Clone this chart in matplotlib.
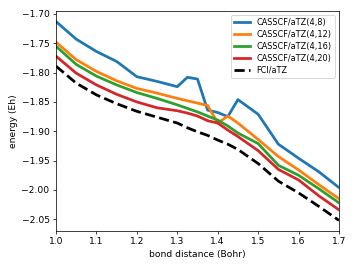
import numpy as np
import matplotlib
matplotlib.use('Agg')
import matplotlib.pyplot as plt

bond = [1.0, 1.05, 1.1, 1.15, 1.2, 1.25, 1.3, 1.325, 1.35, 1.375, 1.4, 1.425, 1.45,
        1.5, 1.55, 1.6, 1.65, 1.7]

cas_4_8 = [-1.713, -1.743, -1.764, -1.781, -1.807, -1.815, -1.824, -1.808, -1.811,
           -1.864, -1.868, -1.875, -1.846, -1.871, -1.922, -1.946, -1.969, -1.996]
cas_4_12 = [-1.748, -1.778, -1.798, -1.814, -1.827, -1.835, -1.844, -1.848, -1.852,
            -1.856, -1.886, -1.874, -1.886, -1.914, -1.943, -1.966, -1.991, -2.015]
cas_4_16 = [-1.755, -1.786, -1.806, -1.821, -1.834, -1.844, -1.855, -1.861, -1.867,
            -1.874, -1.881, -1.891, -1.903, -1.921, -1.958, -1.975, -1.998, -2.022]
cas_4_20 = [-1.772, -1.801, -1.821, -1.837, -1.850, -1.860, -1.865, -1.869, -1.874,
            -1.882, -1.886, -1.898, -1.909, -1.933, -1.965, -1.983, -2.010, -2.034]
fci = [-1.789, -1.818, -1.838, -1.853, -1.866, -1.876, -1.886, -1.894, -1.901,
       -1.907, -1.915, -1.922, -1.931, -1.955, -1.985, -2.005, -2.028, -2.052]

DPI = 66
fig = plt.figure(figsize=(357 / DPI, 268 / DPI), dpi=DPI)
ax = fig.add_axes([56 / 357, 1 - 231 / 268, (339 - 56) / 357, (231 - 11) / 268])

ax.plot(bond, cas_4_8, lw=3, label='CASSCF/aTZ(4,8)')
ax.plot(bond, cas_4_12, lw=3, label='CASSCF/aTZ(4,12)')
ax.plot(bond, cas_4_16, lw=3, label='CASSCF/aTZ(4,16)')
ax.plot(bond, cas_4_20, lw=3, label='CASSCF/aTZ(4,20)')
ax.plot(bond, fci, 'k--', lw=3, label='FCI/aTZ')

ax.set_xlim(1.0, 1.7)
ax.set_ylim(-2.07, -1.695)
ax.set_xlabel('bond distance (Bohr)')
ax.set_ylabel('energy (Eh)')
ax.legend(loc='upper right', fontsize=8.8, labelspacing=0.35)

plt.savefig('out.png', dpi=DPI)
